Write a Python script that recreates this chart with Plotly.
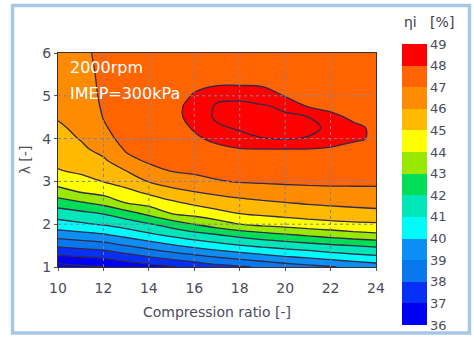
import numpy as np
import plotly.graph_objects as go

# ---- data ----
compression_ratio = [10, 11, 12, 13, 14, 15, 16, 17, 18, 19, 20, 21, 22, 23, 24]
lambda_vals = [1.0, 1.25, 1.5, 1.75, 2.0, 2.25, 2.5, 2.75, 3.0, 3.25, 3.5,
               3.75, 4.0, 4.25, 4.5, 4.75, 5.0, 5.25, 5.5, 5.75, 6.0]

# indicated efficiency [%] for each compression ratio, listed over lambda_vals
eta_cr10 = [35.6, 36.89, 38.16, 39.45, 40.61, 41.5, 42.47, 43.63, 44.37, 44.95, 45.21, 45.44, 45.67, 45.9, 46.05, 46.14, 46.23, 46.33, 46.42, 46.51, 46.6]
eta_cr11 = [35.8, 37.05, 38.37, 39.65, 40.86, 41.73, 42.89, 44.03, 44.68, 45.17, 45.49, 45.81, 46.05, 46.15, 46.25, 46.35, 46.45, 46.55, 46.63, 46.72, 46.8]
eta_cr12 = [35.98, 37.22, 38.58, 39.89, 41.11, 42.05, 43.32, 44.34, 45.03, 45.45, 45.87, 46.3, 46.72, 46.9, 47.03, 47.12, 47.18, 47.2, 47.21, 47.22, 47.22]
eta_cr13 = [36.3, 37.65, 39.01, 40.32, 41.48, 42.6, 44.01, 44.74, 45.39, 46.01, 46.76, 47.1, 47.28, 47.4, 47.5, 47.55, 47.55, 47.52, 47.48, 47.45, 47.42]
eta_cr14 = [36.6, 38.06, 39.44, 40.79, 41.91, 43.25, 44.39, 45.18, 46.05, 46.71, 47.15, 47.28, 47.4, 47.52, 47.63, 47.66, 47.64, 47.62, 47.6, 47.55, 47.5]
eta_cr15 = [36.93, 38.44, 39.88, 41.23, 42.44, 44.01, 44.81, 45.68, 46.44, 47.04, 47.19, 47.34, 47.5, 47.63, 47.75, 47.78, 47.74, 47.68, 47.64, 47.57, 47.52]
eta_cr16 = [37.31, 38.78, 40.29, 41.62, 43.01, 44.34, 45.19, 45.97, 46.71, 47.15, 47.39, 47.63, 47.87, 48.08, 48.25, 48.22, 48.05, 47.9, 47.8, 47.72, 47.65]
eta_cr17 = [37.65, 39.13, 40.65, 41.95, 43.53, 44.69, 45.49, 46.21, 46.94, 47.26, 47.53, 47.81, 48.19, 48.8, 49.2, 49.15, 48.7, 47.97, 47.82, 47.74, 47.68]
eta_cr18 = [37.88, 39.44, 40.94, 42.31, 44.01, 45.01, 45.69, 46.41, 47.06, 47.35, 47.65, 47.94, 48.63, 49.15, 49.35, 49.2, 48.8, 47.97, 47.8, 47.72, 47.66]
eta_cr19 = [38.13, 39.75, 41.21, 42.63, 44.25, 45.18, 45.84, 46.54, 47.11, 47.41, 47.7, 47.98, 48.97, 49.3, 49.33, 49.12, 48.4, 47.93, 47.8, 47.72, 47.66]
eta_cr20 = [38.45, 40.01, 41.42, 42.88, 44.43, 45.32, 45.97, 46.66, 47.14, 47.43, 47.71, 47.98, 49.05, 49.25, 49.16, 48.82, 47.95, 47.82, 47.74, 47.68, 47.63]
eta_cr21 = [38.7, 40.24, 41.63, 43.15, 44.61, 45.43, 46.1, 46.73, 47.16, 47.43, 47.7, 47.97, 48.95, 49.2, 49.03, 47.98, 47.85, 47.77, 47.71, 47.66, 47.62]
eta_cr22 = [38.93, 40.5, 41.84, 43.38, 44.74, 45.53, 46.19, 46.79, 47.16, 47.4, 47.65, 47.9, 48.4, 48.85, 48.15, 47.85, 47.75, 47.7, 47.66, 47.63, 47.6]
eta_cr23 = [39.2, 40.72, 42.01, 43.62, 44.83, 45.62, 46.27, 46.82, 47.15, 47.37, 47.6, 47.83, 48.08, 48.12, 47.9, 47.8, 47.72, 47.67, 47.63, 47.6, 47.58]
eta_cr24 = [39.47, 40.89, 42.18, 43.79, 44.88, 45.71, 46.33, 46.85, 47.13, 47.33, 47.53, 47.75, 47.93, 47.9, 47.8, 47.72, 47.66, 47.62, 47.59, 47.57, 47.55]

levels_start, levels_end = 36, 49
x_ticks = [10, 12, 14, 16, 18, 20, 22, 24]
y_ticks = [1, 2, 3, 4, 5, 6]
cbar_ticks = list(range(36, 50))

# band colours from 36-37 up to 48-49
band_colors = ['#0000f5', '#0630f5', '#0878ef', '#0c8ef5', '#00fbfb', '#00e6b8',
               '#00de58', '#98e800', '#ffff00', '#ffba00', '#ff8c00', '#ff6400', '#ff0000']

columns = [eta_cr10, eta_cr11, eta_cr12, eta_cr13, eta_cr14, eta_cr15, eta_cr16, eta_cr17,
           eta_cr18, eta_cr19, eta_cr20, eta_cr21, eta_cr22, eta_cr23, eta_cr24]
z = np.array(columns).T

# contour fill: plotly evaluates fills at level+0.5 -> 15 nodes (below start, 13 bands, above end)
nodes = [band_colors[0]] + band_colors + [band_colors[-1]]
n = len(nodes) - 1
fill_scale = [[i / n, c] for i, c in enumerate(nodes)]

# stepped scale for the colour bar (13 bands between 36 and 49)
nb = len(band_colors)
step_scale = []
for i, c in enumerate(band_colors):
    step_scale.append([i / nb, c])
    step_scale.append([(i + 1) / nb, c])

W, H = 474, 338
L, R, T, B = 58, 98, 53, 71
pw, ph = W - L - R, H - T - B

def px2x(p):
    return (p - L) / pw

def py2y(p):
    return (H - B - p) / ph

font_family = "DejaVu Sans"
txt_col = '#4c4c5c'

fig = go.Figure()
fig.add_trace(go.Contour(
    x=compression_ratio, y=lambda_vals, z=z,
    autocontour=False,
    contours=dict(start=levels_start, end=levels_end, size=1, coloring='fill', showlines=True),
    colorscale=fill_scale, showscale=False,
    line=dict(color='#33294a', width=1.3, smoothing=1.0),
    hoverinfo='skip',
))
# invisible carrier for the discrete colour bar
fig.add_trace(go.Scatter(
    x=compression_ratio[:1], y=lambda_vals[:1], mode='markers', hoverinfo='skip',
    showlegend=False,
    marker=dict(size=1, opacity=0, color=[levels_start], cmin=levels_start, cmax=levels_end,
                colorscale=step_scale, showscale=True,
                colorbar=dict(
                    thickness=25, len=281, lenmode='pixels',
                    x=px2x(402), xanchor='left', xpad=0,
                    y=py2y(184.5), yanchor='middle', ypad=0,
                    tickvals=cbar_ticks, ticks='', outlinewidth=0,
                    tickfont=dict(family=font_family, size=13, color=txt_col),
                )),
))

shapes = []
for xv in x_ticks[1:-1]:
    shapes.append(dict(type='line', xref='x', yref='paper', x0=xv, x1=xv, y0=0, y1=1,
                       line=dict(color='#8080a0', width=1, dash='dot'), layer='above'))
for yv in y_ticks[1:-1]:
    shapes.append(dict(type='line', xref='paper', yref='y', x0=0, x1=1, y0=yv, y1=yv,
                       line=dict(color='#8080a0', width=1, dash='dot'), layer='above'))
# outer light-blue frame
shapes.append(dict(type='rect', xref='paper', yref='paper',
                   x0=px2x(12.5), x1=px2x(469.5), y0=py2y(333), y1=py2y(5.5),
                   line=dict(color='#a8c6e6', width=3.5), layer='below'))

fig.update_layout(
    width=W, height=H,
    margin=dict(l=L, r=R, t=T, b=B),
    paper_bgcolor='white', plot_bgcolor='white',
    font=dict(family=font_family, color=txt_col),
    shapes=shapes,
    showlegend=False,
    xaxis=dict(range=[10, 24], tickvals=x_ticks, showgrid=False, zeroline=False,
               showline=True, mirror=True, linecolor='#3a3030', linewidth=1.2,
               ticks='outside', ticklen=3, tickcolor='#555', ticklabelstandoff=5,
               tickfont=dict(size=14, color=txt_col),
               title=dict(text='Compression ratio [-]', font=dict(size=14, color=txt_col), standoff=12),
               layer='above traces'),
    yaxis=dict(range=[1, 6], tickvals=y_ticks, showgrid=False, zeroline=False,
               showline=True, mirror=True, linecolor='#3a3030', linewidth=1.2,
               ticks='outside', ticklen=3, tickcolor='#555',
               tickfont=dict(size=14, color=txt_col),
               title=dict(text='λ [-]', font=dict(size=14, color=txt_col), standoff=8),
               layer='above traces'),
    annotations=[
        dict(text='2000rpm', xref='paper', yref='paper', x=px2x(68), y=py2y(68),
             xanchor='left', yanchor='middle', showarrow=False,
             font=dict(size=16, color='white')),
        dict(text='IMEP=300kPa', xref='paper', yref='paper', x=px2x(68), y=py2y(93),
             xanchor='left', yanchor='middle', showarrow=False,
             font=dict(size=16, color='white')),
        dict(text='ηi   [%]', xref='paper', yref='paper', x=px2x(429), y=py2y(22),
             xanchor='center', yanchor='middle', showarrow=False,
             font=dict(size=14, color='#404050')),
    ],
)

fig.write_html("out.html")
